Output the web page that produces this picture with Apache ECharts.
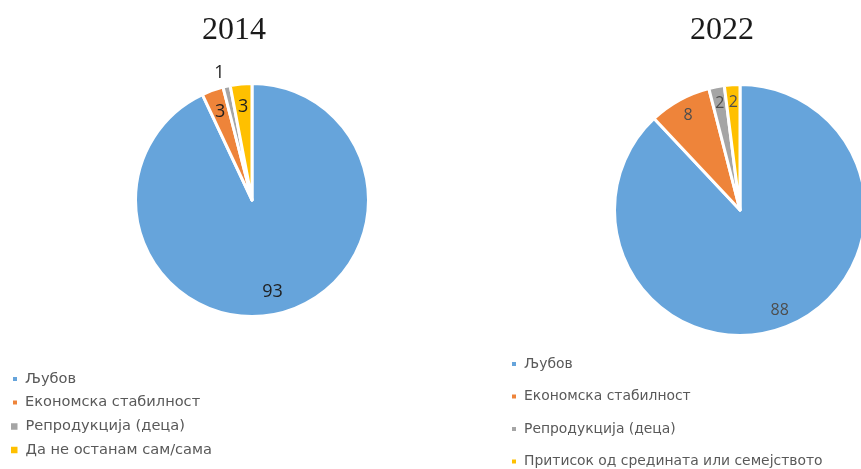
<!DOCTYPE html>
<html>
<head>
<meta charset="utf-8">
<script src="https://cdn.jsdelivr.net/npm/echarts@6/dist/echarts.min.js"></script>
<style>
html,body{margin:0;padding:0;background:#fff;}
#chart{width:861px;height:469px;}
</style>
</head>
<body>
<div id="chart"></div>
<script>
// ---- data ----
const titles = ['2014', '2022'];
const categories2014 = ['Љубов', 'Економска стабилност', 'Репродукција (деца)', 'Да не останам сам/сама'];
const categories2022 = ['Љубов', 'Економска стабилност', 'Репродукција (деца)', 'Притисок од средината или семејството'];
const values2014 = [93, 3, 1, 3];
const values2022 = [88, 8, 2, 2];
const colors = ['#66A4DB', '#EE843A', '#A5A5A5', '#FFC000'];

// ---- build ----
function mkData(cats, vals) {
  return cats.map((c, i) => ({ name: c, value: vals[i], itemStyle: { color: colors[i] } }));
}
function mkLabelData(cats, vals, outsideIdx) {
  return cats.map((c, i) => {
    const d = { name: c, value: vals[i] };
    if (i === outsideIdx) d.label = { position: 'outside', offset: [6, 0] };
    return d;
  });
}

const chart = echarts.init(document.getElementById('chart'), null, { renderer: 'canvas' });

const pieBase = {
  type: 'pie',
  startAngle: 90,
  clockwise: true,
  silent: true,
  animation: false,
  avoidLabelOverlap: false,
  itemStyle: { borderColor: '#fff', borderWidth: 3 },
  label: { show: false },
  labelLine: { show: false }
};

const legendText = (size) => ({ color: '#595959', fontFamily: 'DejaVu Sans', fontSize: size, lineHeight: 16, padding: [0, 0, 0, 2] });

const option = {
  backgroundColor: '#fff',
  animation: false,
  title: [
    { text: titles[0], left: 229, top: 26, textAlign: 'center', textVerticalAlign: 'middle',
      textStyle: { fontFamily: 'Liberation Serif', fontSize: 32, fontWeight: 'normal', color: '#1a1a1a' } },
    { text: titles[1], left: 717, top: 26, textAlign: 'center', textVerticalAlign: 'middle',
      textStyle: { fontFamily: 'Liberation Serif', fontSize: 32, fontWeight: 'normal', color: '#1a1a1a' } }
  ],
  legend: [
    { orient: 'vertical', left: 11, top: 371, padding: 0, itemGap: 7.6, itemWidth: 6, itemHeight: 6, height: 100,
      icon: 'rect', selectedMode: false, data: categories2014.slice(0, 2), textStyle: legendText(14.6) },
    { orient: 'vertical', left: 9, top: 418.5, padding: 0, itemGap: 7.6, itemWidth: 8.5, itemHeight: 8.5, height: 100,
      icon: 'rect', selectedMode: false, data: categories2014.slice(2), textStyle: legendText(14.6) },
    { orient: 'vertical', left: 510, top: 356, padding: 0, itemGap: 16.5, itemWidth: 6, itemHeight: 6, height: 140,
      icon: 'rect', selectedMode: false, data: categories2022, textStyle: legendText(13.9) }
  ],
  series: [
    Object.assign({}, pieBase, { name: '2014', center: [252, 200], radius: [0, 116.5], data: mkData(categories2014, values2014) }),
    Object.assign({}, pieBase, { name: '2022', center: [740, 210], radius: [0, 125.5], data: mkData(categories2022, values2022) }),
    Object.assign({}, pieBase, {
      name: '2014 labels', center: [252, 200], radius: [66, 116], z: 5,
      itemStyle: { color: 'rgba(0,0,0,0)', borderWidth: 0 },
      label: { show: true, position: 'inside', formatter: '{c}', fontFamily: 'Open Sans', fontSize: 18, color: '#1f1f1f' },
      labelLine: { show: false, length: 14, length2: 0 },
      data: mkLabelData(categories2014, values2014, 2)
    }),
    Object.assign({}, pieBase, {
      name: '2022 labels', center: [740, 210], radius: [85, 125], z: 5,
      itemStyle: { color: 'rgba(0,0,0,0)', borderWidth: 0 },
      label: { show: true, position: 'inside', formatter: '{c}', fontFamily: 'Open Sans', fontSize: 16, color: '#4d4d4d' },
      labelLine: { show: false },
      data: mkLabelData(categories2022, values2022, -1)
    })
  ]
};
chart.setOption(option);
</script>
</body>
</html>
